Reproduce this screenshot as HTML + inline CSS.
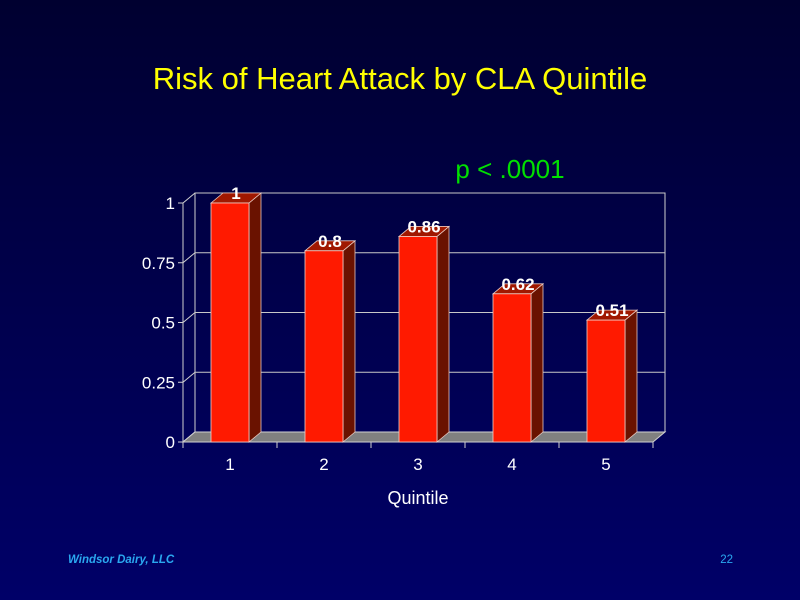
<!DOCTYPE html>
<html><head><meta charset="utf-8"><style>
html,body{margin:0;padding:0;width:800px;height:600px;overflow:hidden}
body{background:linear-gradient(#000030,#000068);font-family:"Liberation Sans",sans-serif}
svg{position:absolute;left:0;top:0}
</style></head><body>
<svg id="c" width="800" height="600" xmlns="http://www.w3.org/2000/svg">
<text x="400" y="89" fill="#ffff00" font-size="31" text-anchor="middle">Risk of Heart Attack by CLA Quintile</text>
<text x="510" y="178" fill="#00e000" font-size="26" text-anchor="middle">p &lt; .0001</text>
<text x="418" y="504" fill="#ffffff" font-size="18" text-anchor="middle">Quintile</text>
<text x="68" y="563" fill="#2aa8f0" font-size="11.5" font-style="italic" font-weight="bold">Windsor Dairy, LLC</text>
<text x="733" y="563" fill="#2aa8f0" font-size="11.5" text-anchor="end">22</text>
</svg>
<script>
const categories=["1","2","3","4","5"];
const values=[1,0.8,0.86,0.62,0.51];
const valueLabels=["1","0.8","0.86","0.62","0.51"];
const yTicks=[0,0.25,0.5,0.75,1];
const yTickLabels=["0","0.25","0.5","0.75","1"];
const svg=document.getElementById('c');
const NS="http://www.w3.org/2000/svg";
const X0=183,Y0=442,H=239,STEP=94,DX=12,DY=-10,BW=38,BOFF=28;
const y=v=>Y0-v*H;
const x=i=>X0+i*STEP;
function mk(t,a){const e=document.createElementNS(NS,t);for(const k in a)e.setAttribute(k,a[k]);svg.appendChild(e);return e;}
let e=mk('polyline',{points:`${X0},${Y0} ${X0+DX},${Y0+DY} ${X0+DX},${y(1)+DY} ${X0+5*STEP+DX},${y(1)+DY} ${X0+5*STEP+DX},${Y0+DY}`,fill:'none',stroke:'#d0d0d0','stroke-width':1});


yTicks.forEach((t,i)=>{
 if(t>0){let g=mk('line',{x1:X0+DX,y1:y(t)+DY,x2:X0+5*STEP+DX,y2:y(t)+DY,stroke:'#c8c8c8','stroke-width':1});
 
 }
 let d=mk('line',{x1:X0,y1:y(t),x2:X0+DX,y2:y(t)+DY,stroke:'#d0d0d0','stroke-width':1});
 
 
 let tk=mk('line',{x1:X0-5,y1:y(t),x2:X0,y2:y(t),stroke:'#d0d0d0'});
 
 
 let l=mk('text',{x:X0-8,y:y(t)+6,fill:'#fff','font-size':17,'text-anchor':'end'});l.textContent=yTickLabels[i];
 
 
});
e=mk('polygon',{points:`${X0},${Y0} ${X0+DX},${Y0+DY} ${X0+5*STEP+DX},${Y0+DY} ${X0+5*STEP},${Y0}`,fill:'#808080',stroke:'#d0d0d0','stroke-width':1});


e=mk('line',{x1:X0,y1:Y0,x2:X0,y2:y(1),stroke:'#d0d0d0'});


e=mk('line',{x1:X0,y1:Y0,x2:X0+5*STEP,y2:Y0,stroke:'#d0d0d0'});


for(let i=0;i<=5;i++){let t=mk('line',{x1:x(i),y1:Y0,x2:x(i),y2:Y0+6,stroke:'#d0d0d0'});
 
 }
categories.forEach((c,i)=>{
 const bx=x(i)+BOFF,top=y(values[i]);
 let s=mk('polygon',{points:`${bx+BW},${Y0} ${bx+BW+DX},${Y0+DY} ${bx+BW+DX},${top+DY} ${bx+BW},${top}`,fill:'#6a1200',stroke:'#e8c8c0','stroke-width':0.8});
 
 
 let tp=mk('polygon',{points:`${bx},${top} ${bx+DX},${top+DY} ${bx+BW+DX},${top+DY} ${bx+BW},${top}`,fill:'#a01800',stroke:'#e8c8c0','stroke-width':0.8});
 
 
 let r=mk('rect',{x:bx,y:top,width:BW,height:Y0-top,fill:'#ff1a00',stroke:'#f0d0c8','stroke-width':0.8});
 
 
 let v=mk('text',{x:bx+BW/2+DX/2,y:top+DY/2+1,fill:'#fff','font-size':17,'font-weight':'bold','text-anchor':'middle'});v.textContent=valueLabels[i];
 
 
 let l=mk('text',{x:x(i)+STEP/2,y:Y0+28,fill:'#fff','font-size':17,'text-anchor':'middle'});l.textContent=c;
 
 
});
</script>
</body></html>
